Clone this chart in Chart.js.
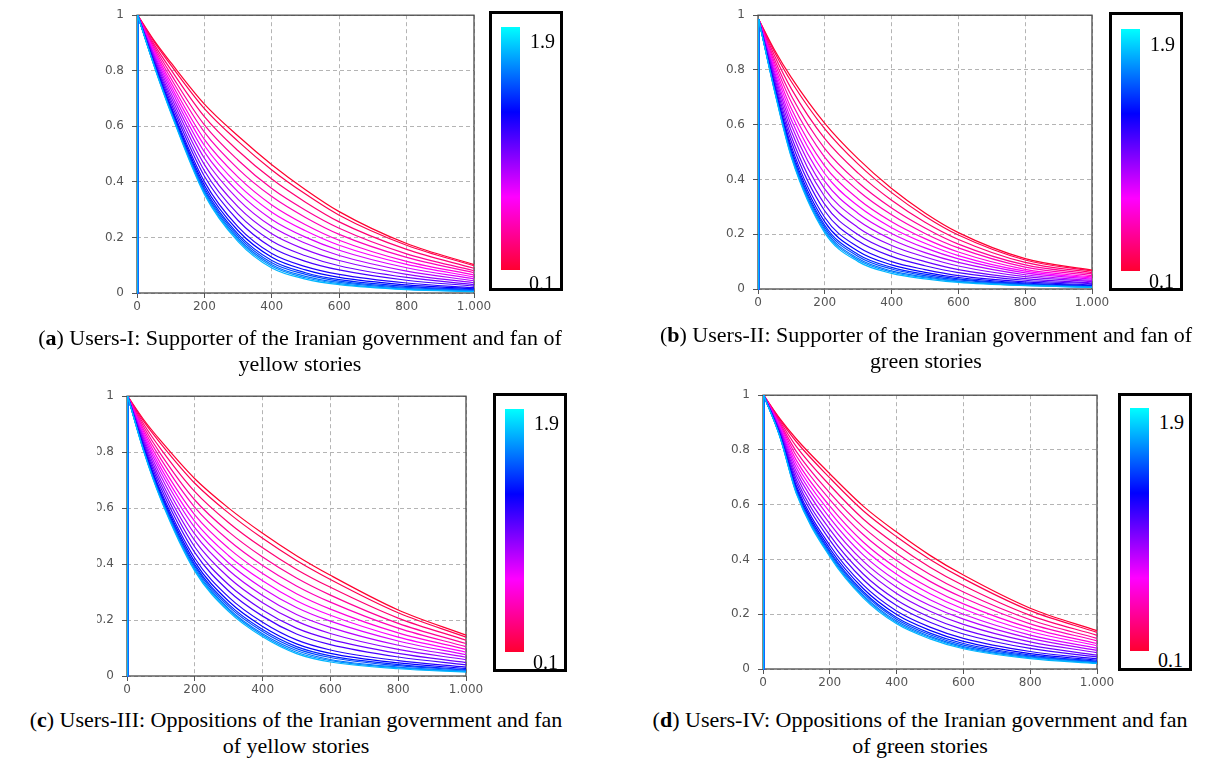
<!DOCTYPE html>
<html>
<head>
<meta charset="utf-8">
<script src="https://cdn.jsdelivr.net/npm/chart.js@4.4.1/dist/chart.umd.min.js"></script>
<style>
  html, body { margin: 0; padding: 0; background: #fff; }
  body { width: 1224px; height: 761px; position: relative; overflow: hidden; }
  canvas.panel { position: absolute; }
  .legend { position: absolute; box-sizing: border-box; border: 3px solid #000; background: #fff; }
  .bar { position: absolute; width: 19px;
         background: linear-gradient(to top, #ff0030 0%, #ff00ff 30%, #0000ff 65%, #00ffff 100%); }
  .lab { position: absolute; font-family: 'Liberation Serif', 'Times New Roman', serif; font-size: 20px; line-height: 20px; color: #000; }
  .caption { position: absolute; font-family: 'Liberation Serif', 'Times New Roman', serif; font-size: 22px; line-height: 26px; color: #000; text-align: center; white-space: nowrap; width: 700px; }
</style>
</head>
<body>
<canvas class="panel" id="pa" width="412" height="318" style="left:87px;top:0px"></canvas>
<canvas class="panel" id="pb" width="409" height="314" style="left:708px;top:0px"></canvas>
<canvas class="panel" id="pc" width="394" height="320" style="left:97px;top:381px"></canvas>
<canvas class="panel" id="pd" width="409" height="314" style="left:713px;top:380px"></canvas>

<div class="legend" style="left:489px;top:11px;width:74px;height:280px">
  <div class="bar" style="left:9px;top:13px;height:243px"></div>
  <div class="lab" style="left:38px;top:17px">1.9</div>
  <div class="lab" style="left:37px;top:259px">0.1</div>
</div>
<div class="legend" style="left:1109px;top:12px;width:74px;height:279px">
  <div class="bar" style="left:9px;top:14px;height:242px"></div>
  <div class="lab" style="left:38px;top:19px">1.9</div>
  <div class="lab" style="left:37px;top:256px">0.1</div>
</div>
<div class="legend" style="left:493px;top:393px;width:74px;height:279px">
  <div class="bar" style="left:9px;top:13px;height:243px"></div>
  <div class="lab" style="left:38px;top:17px">1.9</div>
  <div class="lab" style="left:37px;top:256px">0.1</div>
</div>
<div class="legend" style="left:1118px;top:393px;width:74px;height:278px">
  <div class="bar" style="left:9px;top:12px;height:243px"></div>
  <div class="lab" style="left:38px;top:16px">1.9</div>
  <div class="lab" style="left:37px;top:254px">0.1</div>
</div>

<div class="caption" style="left:-50px;top:325px">(<b>a</b>) Users-I: Supporter of the Iranian government and fan of<br>yellow stories</div>
<div class="caption" style="left:576px;top:322px">(<b>b</b>) Users-II: Supporter of the Iranian government and fan of<br>green stories</div>
<div class="caption" style="left:-54px;top:707px">(<b>c</b>) Users-III: Oppositions of the Iranian government and fan<br>of yellow stories</div>
<div class="caption" style="left:570px;top:707px">(<b>d</b>) Users-IV: Oppositions of the Iranian government and fan<br>of green stories</div>

<script>
// Sampling positions along the x axis (same for every curve)
const xSteps = [0, 2, 50, 100, 200, 300, 400, 500, 600, 800, 1000];
// Parameter of each curve, 0.1 … 1.9
const params = [0.1, 0.2, 0.3, 0.4, 0.5, 0.6, 0.7, 0.8, 0.9, 1.0, 1.1, 1.2, 1.3, 1.4, 1.5, 1.6, 1.7, 1.8, 1.9];
const xTickLabels = ['0', '200', '400', '600', '800', '1.000'];
const yTickLabels = ['0', '0.2', '0.4', '0.6', '0.8', '1'];

// (a) Users-I
const usersI = [
  [0, 1, .910, .830, .680, .565, .462, .372, .293, .178, .102],
  [0, 1, .906, .821, .664, .546, .443, .356, .280, .172, .098],
  [0, 1, .897, .805, .635, .512, .410, .327, .256, .157, .089],
  [0, 1, .889, .789, .605, .478, .376, .298, .233, .141, .080],
  [0, 1, .882, .774, .579, .447, .347, .272, .211, .128, .073],
  [0, 1, .875, .760, .553, .417, .317, .246, .190, .114, .065],
  [0, 1, .869, .747, .531, .390, .291, .224, .172, .103, .058],
  [0, 1, .862, .735, .508, .364, .265, .201, .154, .091, .051],
  [0, 1, .856, .722, .485, .337, .239, .179, .135, .079, .044],
  [0, 1, .850, .709, .462, .310, .213, .156, .117, .067, .037],
  [0, 1, .843, .697, .440, .284, .187, .134, .098, .056, .030],
  [0, 1, .838, .686, .420, .261, .164, .114, .083, .046, .025],
  [0, 1, .833, .675, .401, .238, .142, .095, .067, .036, .019],
  [0, 1, .829, .668, .388, .224, .129, .083, .056, .029, .015],
  [0, 1, .826, .663, .378, .212, .117, .073, .048, .024, .012],
  [0, 1, .825, .659, .371, .205, .109, .067, .043, .020, .010],
  [0, 1, .823, .655, .365, .197, .102, .060, .038, .017, .008],
  [0, 1, .821, .653, .360, .191, .096, .055, .034, .014, .006],
  [0, 1, .820, .650, .355, .185, .090, .050, .030, .012, .005]
];

// (b) Users-II
const usersII = [
  [0, .985, .872, .772, .605, .475, .367, .278, .206, .111, .069],
  [0, .985, .864, .757, .585, .456, .352, .266, .197, .106, .066],
  [0, .985, .851, .731, .549, .423, .324, .244, .181, .097, .060],
  [0, .985, .837, .705, .513, .389, .296, .223, .164, .088, .055],
  [0, .985, .825, .682, .481, .359, .271, .203, .150, .080, .049],
  [0, .985, .813, .658, .449, .329, .246, .184, .135, .072, .044],
  [0, .985, .802, .638, .421, .303, .224, .167, .122, .065, .040],
  [0, .985, .791, .617, .393, .276, .203, .150, .110, .059, .036],
  [0, .985, .781, .597, .365, .250, .181, .133, .097, .052, .031],
  [0, .985, .770, .576, .337, .224, .159, .117, .084, .045, .027],
  [0, .985, .760, .556, .309, .198, .138, .100, .071, .038, .022],
  [0, .985, .750, .538, .285, .175, .119, .085, .060, .032, .019],
  [0, .985, .741, .521, .261, .153, .100, .071, .049, .026, .015],
  [0, .985, .735, .509, .245, .138, .088, .061, .042, .022, .012],
  [0, .985, .731, .500, .233, .126, .079, .054, .037, .019, .010],
  [0, .985, .728, .495, .225, .119, .073, .049, .033, .017, .009],
  [0, .985, .725, .489, .217, .111, .066, .044, .029, .015, .008],
  [0, .985, .722, .484, .211, .106, .062, .041, .027, .013, .007],
  [0, .985, .720, .480, .205, .100, .057, .037, .024, .012, .006]
];

// (c) Users-III
const usersIII = [
  [0, 1, .915, .840, .705, .600, .510, .430, .360, .236, .146],
  [0, 1, .909, .830, .689, .582, .492, .413, .345, .226, .139],
  [0, 1, .899, .811, .659, .548, .458, .381, .317, .207, .128],
  [0, 1, .889, .792, .629, .515, .425, .350, .289, .188, .116],
  [0, 1, .879, .775, .603, .485, .395, .322, .264, .171, .105],
  [0, 1, .870, .758, .576, .456, .366, .294, .239, .154, .095],
  [0, 1, .862, .743, .553, .430, .340, .269, .217, .139, .085],
  [0, 1, .854, .729, .530, .404, .314, .245, .196, .125, .076],
  [0, 1, .846, .714, .507, .378, .288, .220, .174, .110, .067],
  [0, 1, .838, .699, .484, .352, .262, .196, .152, .095, .058],
  [0, 1, .830, .685, .461, .326, .236, .171, .131, .081, .048],
  [0, 1, .823, .672, .441, .304, .214, .150, .112, .068, .040],
  [0, 1, .816, .659, .421, .282, .192, .129, .093, .055, .032],
  [0, 1, .812, .651, .408, .267, .177, .115, .081, .047, .027],
  [0, 1, .808, .645, .398, .256, .166, .105, .072, .041, .023],
  [0, 1, .806, .641, .392, .249, .159, .098, .066, .037, .021],
  [0, 1, .803, .636, .385, .241, .151, .091, .059, .032, .018],
  [0, 1, .802, .633, .380, .236, .146, .085, .055, .029, .016],
  [0, 1, .800, .630, .375, .230, .140, .080, .050, .026, .014]
];

// (d) Users-IV
const usersIV = [
  [0, 1, .915, .840, .713, .595, .500, .415, .343, .222, .140],
  [0, 1, .912, .830, .698, .578, .483, .400, .330, .213, .134],
  [0, 1, .906, .812, .671, .548, .453, .372, .305, .196, .123],
  [0, 1, .900, .794, .643, .518, .423, .345, .281, .180, .112],
  [0, 1, .895, .778, .619, .491, .396, .320, .260, .165, .103],
  [0, 1, .890, .762, .595, .464, .369, .296, .238, .150, .093],
  [0, 1, .885, .748, .574, .441, .346, .275, .219, .137, .085],
  [0, 1, .881, .734, .552, .417, .322, .253, .200, .124, .076],
  [0, 1, .876, .720, .531, .394, .299, .232, .182, .112, .068],
  [0, 1, .871, .706, .510, .371, .276, .211, .163, .099, .060],
  [0, 1, .867, .692, .489, .347, .252, .189, .144, .086, .051],
  [0, 1, .863, .680, .471, .327, .232, .171, .128, .075, .044],
  [0, 1, .859, .668, .452, .307, .212, .153, .112, .064, .037],
  [0, 1, .857, .660, .440, .294, .199, .141, .101, .056, .032],
  [0, 1, .855, .654, .431, .283, .188, .131, .093, .051, .028],
  [0, 1, .853, .650, .425, .277, .182, .125, .087, .047, .026],
  [0, 1, .852, .646, .419, .270, .175, .119, .082, .044, .024],
  [0, 1, .851, .643, .415, .265, .170, .115, .078, .041, .022],
  [0, 1, .850, .640, .410, .260, .165, .110, .074, .038, .020]
];

// red -> magenta -> blue -> cyan colour ramp shared by curves and colour bars
const rampStops = [
  [0.00, [255, 0, 48]],
  [0.30, [255, 0, 255]],
  [0.65, [0, 0, 255]],
  [1.00, [0, 255, 255]]
];
function rampColor(t) {
  for (let k = 1; k < rampStops.length; k++) {
    const [t1, c1] = rampStops[k];
    const [t0, c0] = rampStops[k - 1];
    if (t <= t1) {
      const f = (t - t0) / (t1 - t0);
      const c = c0.map((v, i) => Math.round(v + (c1[i] - v) * f));
      return `rgb(${c[0]},${c[1]},${c[2]})`;
    }
  }
  return 'rgb(0,255,255)';
}

Chart.defaults.font.family = "'DejaVu Sans', Verdana, sans-serif";
Chart.defaults.font.size = 12;
Chart.defaults.color = '#555';

// outline around the plotting area, drawn beneath the curves
const framePlugin = {
  id: 'frame',
  beforeDatasetsDraw(chart) {
    const { ctx, chartArea: a } = chart;
    ctx.save();
    ctx.strokeStyle = '#4a4a4a';
    ctx.lineWidth = 1.3;
    ctx.strokeRect(a.left, a.top, a.right - a.left, a.bottom - a.top);
    ctx.restore();
  }
};

function makePanel(id, series, yAxisWidth, padTop) {
  const pMin = params[0], pMax = params[params.length - 1];
  const datasets = [];
  series.forEach((row, i) => {
    const color = rampColor(0.9 * (params[i] - pMin) / (pMax - pMin));
    const pts = row.map((y, j) => ({ x: xSteps[j], y }));
    // initial jump from 0 at the origin
    datasets.push({
      label: params[i] + ' rise', data: pts.slice(0, 2),
      borderColor: color, borderWidth: 1.2, pointRadius: 0, tension: 0,
      clip: 3, order: series.length - i
    });
    // decay part
    datasets.push({
      label: String(params[i]), data: pts.slice(1),
      borderColor: color, borderWidth: 1.2, pointRadius: 0, fill: false,
      cubicInterpolationMode: 'monotone', clip: 3, order: series.length - i + 0.5
    });
  });
  const gridCommon = { color: '#b4b4b4', lineWidth: 1, tickLength: 5, tickColor: '#555' };
  new Chart(document.getElementById(id), {
    type: 'line',
    data: { datasets },
    options: {
      responsive: false,
      animation: false,
      events: [],
      layout: { padding: { top: padTop, right: 25, left: 0, bottom: 0 } },
      plugins: { legend: { display: false }, tooltip: { enabled: false } },
      scales: {
        x: {
          type: 'linear', min: 0, max: 1000,
          ticks: { stepSize: 200, padding: 2, maxRotation: 0,
                   callback: (v, i) => xTickLabels[i] },
          grid: gridCommon,
          border: { display: false, dash: [4, 3] },
          afterFit: s => { s.height = 25; }
        },
        y: {
          type: 'linear', min: 0, max: 1,
          ticks: { stepSize: 0.2, padding: 8,
                   callback: (v, i) => yTickLabels[i] },
          grid: gridCommon,
          border: { display: false, dash: [4, 3] },
          afterFit: s => { s.width = yAxisWidth; }
        }
      }
    },
    plugins: [framePlugin]
  });
}

makePanel('pa', usersI, 50, 8);
makePanel('pb', usersII, 50, 10);
makePanel('pc', usersIII, 30, 10);
makePanel('pd', usersIV, 50, 10);
</script>
</body>
</html>
